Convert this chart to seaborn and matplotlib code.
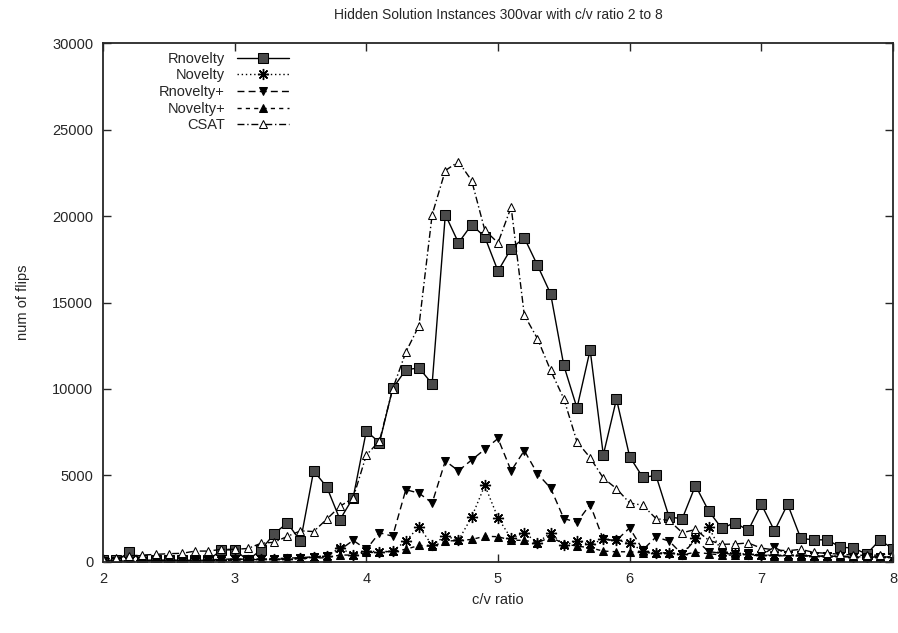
#!/usr/bin/env python3
"""
Hidden solution instances, 300 vars: num of flips vs c/v ratio
"""

import numpy as np
import pandas as pd
import matplotlib
matplotlib.use("Agg")
import matplotlib.pyplot as plt
import seaborn as sns

# --- data ---
ratio = [round(2.0 + 0.1 * i, 1) for i in range(61)]

rnovelty = [100, 100, 550, 100, 100, 100, 100, 100, 100, 700,
            700, 100, 700, 1630, 2260, 1200, 5270, 4330, 2450, 3720,
            7570, 6900, 10030, 11110, 11220, 10300, 20080, 18450, 19500, 18790,
            16820, 18120, 18740, 17150, 15500, 11360, 8900, 12260, 6190, 9420,
            6090, 4890, 5000, 2590, 2510, 4420, 2950, 1940, 2280, 1820,
            3340, 1800, 3340, 1360, 1280, 1280, 860, 800, 460, 1270,
            760]
novelty = [50, 50, 80, 60, 60, 60, 70, 80, 100, 120,
           150, 140, 190, 150, 150, 210, 290, 340, 820, 400,
           630, 590, 630, 1210, 2040, 970, 1500, 1260, 2590, 4430,
           2550, 1360, 1690, 1110, 1690, 960, 1210, 1020, 1300, 1250,
           1110, 630, 530, 530, 440, 1400, 2000, 600, 500, 450,
           400, 400, 380, 380, 350, 350, 330, 300, 300, 300,
           300]
rnovelty_plus = [50, 60, 80, 80, 90, 100, 100, 120, 130, 150,
                 180, 150, 200, 200, 220, 250, 300, 350, 700, 1250,
                 730, 1690, 1490, 4180, 3980, 3410, 5840, 5270, 5900, 6510,
                 7140, 5270, 6440, 5100, 4270, 2510, 2300, 3320, 1300, 1250,
                 1970, 700, 1440, 1210, 440, 1300, 600, 500, 450, 500,
                 400, 860, 400, 380, 350, 330, 330, 300, 300, 300,
                 280]
novelty_plus = [50, 50, 60, 60, 60, 70, 70, 80, 80, 100,
                100, 120, 150, 150, 180, 200, 220, 250, 400, 400,
                550, 550, 630, 730, 960, 900, 1200, 1250, 1300, 1490,
                1460, 1260, 1250, 1110, 1440, 1050, 920, 820, 630, 590,
                590, 530, 530, 530, 420, 560, 480, 400, 400, 380,
                380, 360, 350, 350, 330, 320, 300, 300, 280, 280,
                280]
csat = [150, 250, 350, 400, 440, 480, 500, 630, 630, 730,
        730, 780, 1080, 1140, 1480, 1800, 1760, 2480, 3220, 3700,
        6180, 7000, 10000, 12130, 13660, 20080, 22630, 23140, 22050, 19180,
        18450, 20520, 14270, 12910, 11070, 9440, 6950, 6030, 4850, 4240,
        3410, 3280, 2510, 2400, 1690, 1880, 1260, 1020, 1040, 1100,
        800, 700, 650, 730, 550, 500, 450, 400, 380, 400,
        500]

series_names = ["Rnovelty", "Novelty", "Rnovelty+", "Novelty+", "CSAT"]
x_ticks = [2, 3, 4, 5, 6, 7, 8]
y_ticks = [0, 5000, 10000, 15000, 20000, 25000, 30000]


def main():
    df = pd.DataFrame({
        "ratio": ratio,
        "Rnovelty": rnovelty,
        "Novelty": novelty,
        "Rnovelty+": rnovelty_plus,
        "Novelty+": novelty_plus,
        "CSAT": csat,
    })

    sns.set_style("ticks")
    plt.rcParams["font.family"] = ["Liberation Sans", "DejaVu Sans"]

    fig = plt.figure(figsize=(8.98, 6.33), dpi=100)
    ax = fig.add_axes([0.1147, 0.1122, 0.8797, 0.8198])

    styles = {
        "Rnovelty": dict(linestyle="-", marker="s", markersize=7,
                         markerfacecolor="#4a4a4a", markeredgecolor="black"),
        "Novelty": dict(linestyle=(0, (1, 2)), marker=(8, 2, 0), markersize=8,
                        markeredgewidth=1.0, markeredgecolor="black"),
        "Rnovelty+": dict(linestyle=(0, (5, 3)), marker="v", markersize=6,
                          markerfacecolor="black", markeredgecolor="black"),
        "Novelty+": dict(linestyle=(0, (3, 3)), marker="^", markersize=6,
                         markerfacecolor="black", markeredgecolor="black"),
        "CSAT": dict(linestyle=(0, (5, 2, 1, 2)), marker="^", markersize=6,
                     markerfacecolor="white", markeredgecolor="black"),
    }

    for name in series_names:
        sns.lineplot(data=df, x="ratio", y=name, ax=ax, color="black",
                     linewidth=1.0, label=name, **styles[name])

    ax.set_xlim(2, 8)
    ax.set_ylim(0, 30000)
    ax.set_xticks(x_ticks)
    ax.set_yticks(y_ticks)
    ax.tick_params(direction="in", top=True, right=True, length=6,
                   width=1.0, labelsize=10.5, pad=7)
    for sp in ax.spines.values():
        sp.set_linewidth(1.3)

    ax.set_xlabel("c/v ratio", fontsize=10.5, labelpad=5)
    ax.set_ylabel("num of flips", fontsize=10.5, labelpad=16)
    ax.set_title("Hidden Solution Instances 300var with c/v ratio 2 to 8",
                 fontsize=10, pad=17)

    ax.legend(loc="upper left", frameon=False, markerfirst=False,
              fontsize=10.5, handlelength=3.6, labelspacing=0.18,
              borderaxespad=0.2, bbox_to_anchor=(0.06, 1.0))

    fig.savefig("out.png", dpi=100)
    plt.close(fig)


if __name__ == "__main__":
    main()
